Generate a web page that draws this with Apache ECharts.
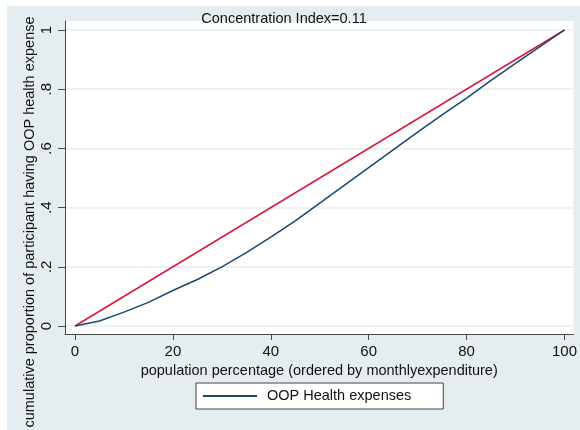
<!DOCTYPE html>
<html>
<head>
<meta charset="utf-8">
<script src="https://cdn.jsdelivr.net/npm/echarts@6/dist/echarts.min.js"></script>
<style>html,body{margin:0;padding:0;background:#fff;}#c{width:580px;height:430px;}</style>
</head>
<body>
<div id="c"></div>
<script>
var popPct = [0, 5, 10, 15, 20, 25, 30, 35, 40, 45, 50, 55, 60, 65, 70, 75, 80, 85, 90, 95, 100];
var oopCum = [0, 0.017, 0.047, 0.08, 0.12, 0.157, 0.2, 0.248, 0.30, 0.355, 0.415, 0.475, 0.535, 0.595, 0.655, 0.713, 0.77, 0.83, 0.887, 0.944, 1];
var equalityX = [0, 100];
var equalityY = [0, 1];
var xTickValues = [0, 20, 40, 60, 80, 100];
var yTickValues = [0, 0.2, 0.4, 0.6, 0.8, 1];
var yTickLabels = ['0', '.2', '.4', '.6', '.8', '1'];
var titleText = 'Concentration Index=0.11';
var xTitle = 'population percentage (ordered by monthlyexpenditure)';
var yTitle = 'cumulative proportion of participant having OOP health expense';
var seriesName = 'OOP Health expenses';

var font = '"Liberation Sans", Arial, sans-serif';
var chart = echarts.init(document.getElementById('c'), null, {renderer: 'canvas'});
var axisCol = '#4a4a4a';
chart.setOption({
  backgroundColor: '#ffffff',
  animation: false,
  title: {
    text: titleText, left: 279, top: 6, textAlign: 'center',
    textStyle: {fontFamily: font, fontSize: 14.5, fontWeight: 'normal', color: '#111'}
  },
  graphic: [
    {type: 'rect', z: -10, shape: {x: 7, y: 6, width: 573, height: 424}, style: {fill: '#e6edf0'}, silent: true},
    {type: 'text', z: 10, x: 30, y: 222, rotation: Math.PI / 2,
     style: {text: yTitle, font: '14.5px ' + font, fill: '#111', textAlign: 'center', textVerticalAlign: 'middle'}}
  ],
  grid: {left: 65, right: 5, top: 21, bottom: 96, show: true, backgroundColor: '#ffffff', borderWidth: 0},
  legend: {
    data: [{name: seriesName, icon: 'rect'}], left: 196, top: 383,
    backgroundColor: '#ffffff', borderColor: '#444', borderWidth: 1, borderRadius: 0,
    padding: [5, 32, 5, 7], itemWidth: 54, itemHeight: 2,
    textStyle: {fontFamily: font, fontSize: 14.5, color: '#111', padding: [0, 0, 0, 5], lineHeight: 16}
  },
  xAxis: {
    type: 'value', min: -2.04, max: 101.83,
    name: xTitle, nameLocation: 'middle', nameGap: 25,
    nameTextStyle: {fontFamily: font, fontSize: 14.5, color: '#111'},
    axisLine: {show: true, onZero: false, lineStyle: {color: axisCol, width: 1}},
    axisTick: {show: true, length: 6, customValues: xTickValues, lineStyle: {color: axisCol}},
    axisLabel: {customValues: xTickValues, margin: 10, fontFamily: font, fontSize: 15, color: '#111'},
    splitLine: {show: false}
  },
  yAxis: {
    type: 'value', min: -0.027, max: 1.0304,
    axisLine: {show: true, onZero: false, lineStyle: {color: axisCol, width: 1}},
    axisTick: {show: true, length: 7, customValues: yTickValues, lineStyle: {color: axisCol}},
    axisLabel: {
      customValues: yTickValues, rotate: 90, margin: 11, fontFamily: font, fontSize: 15, color: '#111',
      formatter: function (v) { var i = yTickValues.indexOf(v); return i >= 0 ? yTickLabels[i] : ''; }
    },
    splitLine: {show: true, lineStyle: {color: '#e6eef1', width: 1.5}}
  },
  series: [
    {
      name: 'equality', type: 'line', symbol: 'none',
      data: equalityX.map(function (x, i) { return [x, equalityY[i]]; }),
      lineStyle: {color: '#d71a3c', width: 1.5}, itemStyle: {color: '#d71a3c'}, z: 3
    },
    {
      name: seriesName, type: 'line', symbol: 'none',
      data: popPct.map(function (x, i) { return [x, oopCum[i]]; }),
      lineStyle: {color: '#1a476f', width: 1.5}, itemStyle: {color: '#1a476f'}, z: 4
    }
  ]
});
</script>
</body>
</html>
